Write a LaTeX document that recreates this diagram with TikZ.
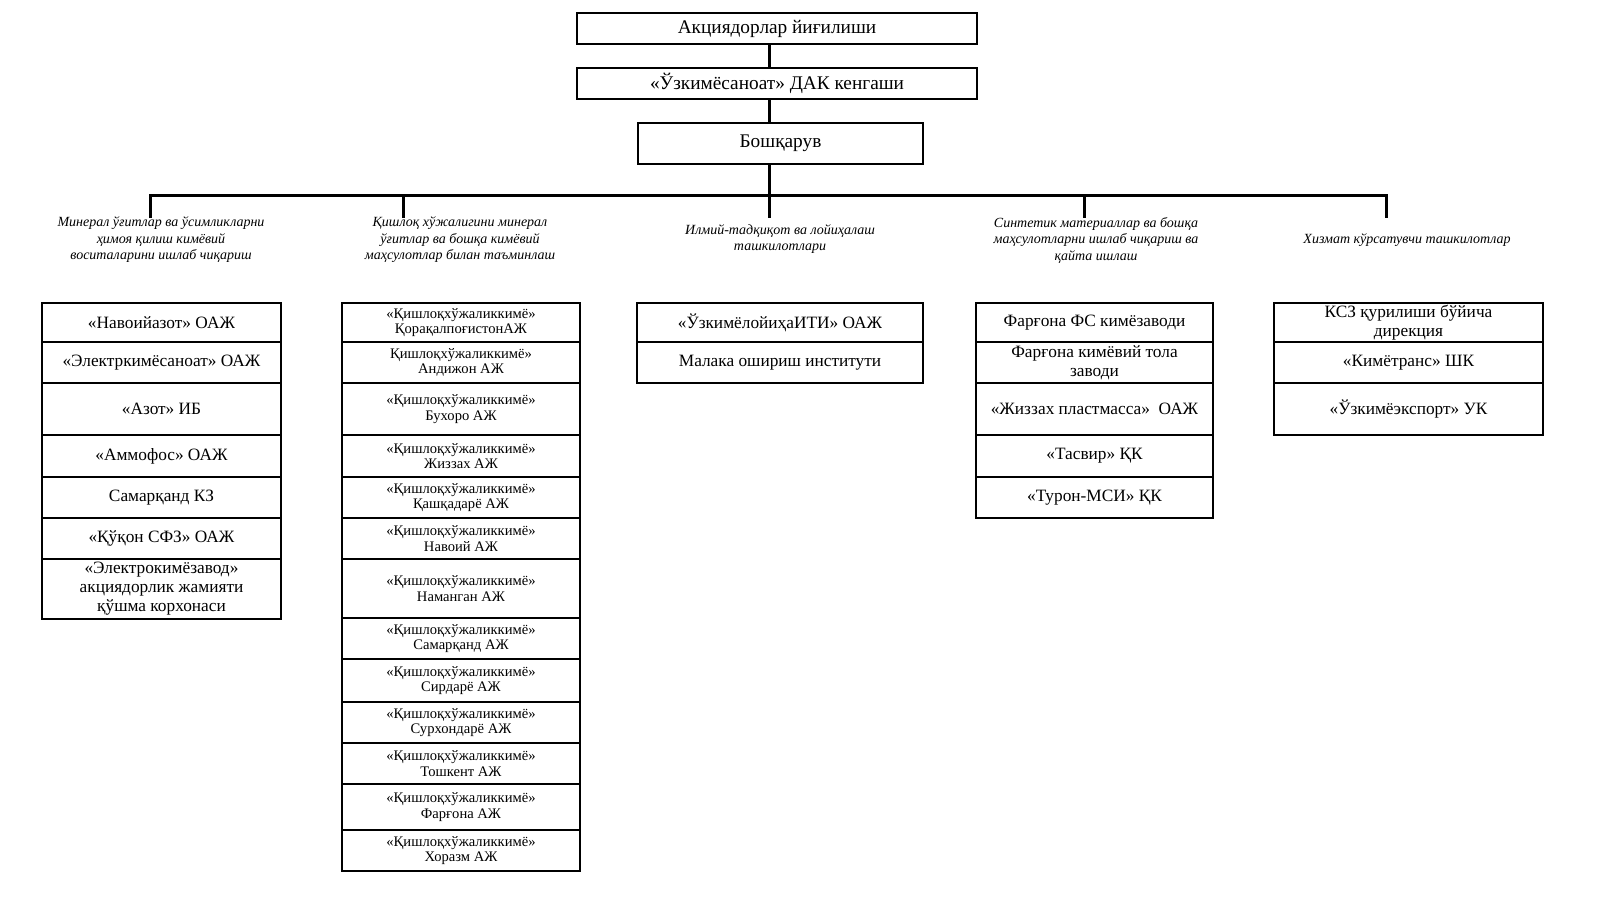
\documentclass[tikz,border=0pt]{standalone}
\usepackage{fontspec}
\setmainfont{Liberation Serif}
\newcommand\mybox[7]{% style, name, x1, y1, x2, y2, text
  \node[cell,#1, minimum width={(#5-#3)*1pt}, minimum height={(#6-#4)*1pt}] (#2) at ({(#3+#5)/2},{(#4+#6)/2}) {#7};}
\tikzset{
  cell/.style={draw, line width=1.5pt, inner sep=0pt, outer sep=0pt, align=center, font=\fontsize{17.3}{19}\selectfont},
  small/.style={font=\fontsize{14.6}{15.8}\selectfont},
  topcell/.style={font=\fontsize{19.3}{21}\selectfont},
  cat/.style={align=center, inner sep=0pt, font=\itshape\fontsize{14}{16.5}\selectfont},
  conn/.style={line width=3pt},
}
\begin{document}
\begin{tikzpicture}[x=1pt,y=-1pt]
\useasboundingbox (0,0) rectangle (1605,914);
% top chain
\mybox{topcell}{top}{577}{13}{977}{44}{Акциядорлар йиғилиши}
\mybox{topcell}{council}{577}{68}{977}{99}{«Ўзкимёсаноат» ДАК кенгаши}
\mybox{topcell}{board}{638}{123}{923}{164}{Бошқарув}
% bar coordinates
\coordinate (b1) at (150,195); \coordinate (e1) at (150,218);
\coordinate (b2) at (403,195); \coordinate (e2) at (403,218);
\coordinate (b3) at (769,195); \coordinate (e3) at (769,218);
\coordinate (b4) at (1084,195); \coordinate (e4) at (1084,218);
\coordinate (b5) at (1386,195); \coordinate (e5) at (1386,218);
\draw[conn] (b3 |- top.south) -- (b3 |- council.north);
\draw[conn] (b3 |- council.south) -- (b3 |- board.north);
\draw[conn] (b3 |- board.south) -- (b3);
\draw[conn] (e1) -- (b1) -- (b5) -- (e5);
\draw[conn] (b2) -- (e2);
\draw[conn] (b3) -- (e3);
\draw[conn] (b4) -- (e4);
% category labels
\node[cat] (c1) at (161,240) {Минерал ўғитлар ва ўсимликларни\\ҳимоя қилиш кимёвий\\воситаларини ишлаб чиқариш};
\node[cat] (c2) at (460,240) {Қишлоқ хўжалигини минерал\\ўғитлар ва бошқа кимёвий\\маҳсулотлар билан таъминлаш};
\node[cat] (c3) at (780,239) {Илмий-тадқиқот ва лойиҳалаш\\ташкилотлари};
\node[cat] (c4) at (1096,240) {Синтетик материаллар ва бошқа\\маҳсулотларни ишлаб чиқариш ва\\қайта ишлаш};
\node[cat] (c5) at (1407,240) {Хизмат кўрсатувчи ташкилотлар};
% column 1
\mybox{}{a1}{42}{303}{281}{342}{«Навоийазот» ОАЖ}
\mybox{}{a2}{42}{342}{281}{383}{«Электркимёсаноат» ОАЖ}
\mybox{}{a3}{42}{383}{281}{435}{«Азот» ИБ}
\mybox{}{a4}{42}{435}{281}{477}{«Аммофос» ОАЖ}
\mybox{}{a5}{42}{477}{281}{518}{Самарқанд КЗ}
\mybox{}{a6}{42}{518}{281}{559}{«Қўқон СФЗ» ОАЖ}
\mybox{}{a7}{42}{559}{281}{619}{«Электрокимёзавод»\\акциядорлик жамияти\\қўшма корхонаси}
% column 2
\mybox{small}{k1}{342}{303}{580}{342}{«Қишлоқхўжаликкимё»\\ҚорақалпоғистонАЖ}
\mybox{small}{k2}{342}{342}{580}{383}{Қишлоқхўжаликкимё»\\Андижон АЖ}
\mybox{small}{k3}{342}{383}{580}{435}{«Қишлоқхўжаликкимё»\\Бухоро АЖ}
\mybox{small}{k4}{342}{435}{580}{477}{«Қишлоқхўжаликкимё»\\Жиззах АЖ}
\mybox{small}{k5}{342}{477}{580}{518}{«Қишлоқхўжаликкимё»\\Қашқадарё АЖ}
\mybox{small}{k6}{342}{518}{580}{559}{«Қишлоқхўжаликкимё»\\Навоий АЖ}
\mybox{small}{k7}{342}{559}{580}{618}{«Қишлоқхўжаликкимё»\\Наманган АЖ}
\mybox{small}{k8}{342}{618}{580}{659}{«Қишлоқхўжаликкимё»\\Самарқанд АЖ}
\mybox{small}{k9}{342}{659}{580}{702}{«Қишлоқхўжаликкимё»\\Сирдарё АЖ}
\mybox{small}{k10}{342}{702}{580}{743}{«Қишлоқхўжаликкимё»\\Сурхондарё АЖ}
\mybox{small}{k11}{342}{743}{580}{784}{«Қишлоқхўжаликкимё»\\Тошкент АЖ}
\mybox{small}{k12}{342}{784}{580}{830}{«Қишлоқхўжаликкимё»\\Фарғона АЖ}
\mybox{small}{k13}{342}{830}{580}{871}{«Қишлоқхўжаликкимё»\\Хоразм АЖ}
% column 3
\mybox{}{i1}{637}{303}{923}{342}{«ЎзкимёлойиҳаИТИ» ОАЖ}
\mybox{}{i2}{637}{342}{923}{383}{Малака ошириш институти}
% column 4
\mybox{}{s1}{976}{303}{1213}{342}{Фарғона ФС кимёзаводи}
\mybox{}{s2}{976}{342}{1213}{383}{Фарғона кимёвий тола\\заводи}
\mybox{}{s3}{976}{383}{1213}{435}{«Жиззах пластмасса»\ \ ОАЖ}
\mybox{}{s4}{976}{435}{1213}{477}{«Тасвир» ҚК}
\mybox{}{s5}{976}{477}{1213}{518}{«Турон-МСИ» ҚК}
% column 5
\mybox{}{x1}{1274}{303}{1543}{342}{КСЗ қурилиши бўйича\\дирекция}
\mybox{}{x2}{1274}{342}{1543}{383}{«Кимётранс» ШК}
\mybox{}{x3}{1274}{383}{1543}{435}{«Ўзкимёэкспорт» УК}
\end{tikzpicture}
\end{document}
